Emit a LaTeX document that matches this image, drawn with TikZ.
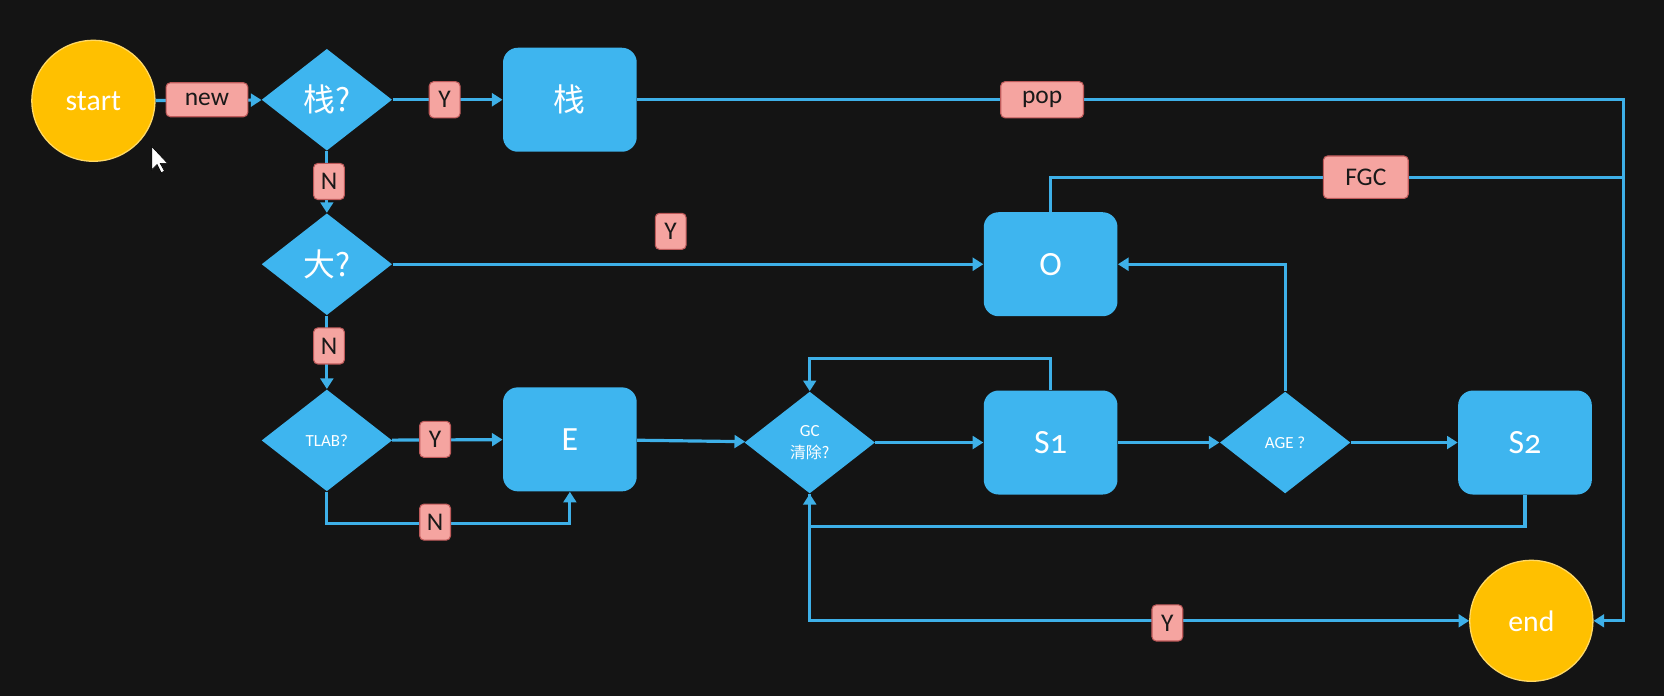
\documentclass[tikz,border=0pt]{standalone}
\usepackage{fontspec}
\setmainfont{Carlito}
\newfontfamily\cjk{Noto Sans CJK SC}
\usetikzlibrary{shapes.geometric,arrows.meta}
\definecolor{bg}{RGB}{20,20,20}
\definecolor{fblue}{RGB}{62,181,239}
\definecolor{lblue}{RGB}{62,176,232}
\definecolor{gold}{RGB}{255,192,0}
\definecolor{pinkf}{RGB}{245,164,160}
\definecolor{pinkd}{RGB}{190,90,90}
\begin{document}
\begin{tikzpicture}[x=0.5pt,y=-0.5pt,
 wire/.style={draw=lblue, line width=1.5pt},
 arr/.style={wire, -{Triangle[length=5pt,width=6pt]}},
 box/.style={rectangle, rounded corners=7pt, fill=fblue, minimum width=63pt, minimum height=49pt, text=white, font=\fontsize{16}{18}\selectfont},
 dia/.style={diamond, fill=fblue, minimum width=61.5pt, minimum height=48pt, inner sep=0pt, text=white, align=center},
 term/.style={ellipse, fill=gold, draw=gold!60!white, line width=0.6pt, minimum width=58pt, minimum height=57pt, text=white, font=\fontsize{14}{16}\selectfont},
 lbl/.style={rectangle, rounded corners=2pt, fill=pinkf, draw=pinkd, line width=0.5pt, text=black!90, inner sep=0pt, minimum height=17pt, minimum width=14.5pt, font=\fontsize{12}{14}\selectfont},
]
\fill[bg] (0,0) rectangle (1568,656);
\useasboundingbox (0,0) rectangle (1568,656);

% nodes
\node[term] (start) at (88,95) {start};
\node[dia, font=\fontsize{15}{17}\selectfont] (q1) at (308,94) {\cjk 栈?};
\node[box, font=\cjk\fontsize{15}{17}\selectfont] (stack) at (537,94) {栈};
\node[dia, font=\fontsize{15}{17}\selectfont] (q2) at (308,249) {\cjk 大?};
\node[box] (O) at (990,249) {O};
\node[dia, font=\fontsize{8}{10}\selectfont] (q3) at (308,415) {TLAB?};
\node[box] (E) at (537,414) {E};
\node[dia, font=\fontsize{8}{10.5}\selectfont] (gc) at (763,417) {GC\\{\cjk\fontsize{7.5}{10.5}\selectfont 清除?}};
\node[box] (S1) at (990,417) {S{\addfontfeature{Numbers=OldStyle}1}};
\node[dia, font=\fontsize{8}{10}\selectfont] (age) at (1211,417) {AGE ?};
\node[box] (S2) at (1437,417) {S{\addfontfeature{Numbers=OldStyle}2}};
\node[term] (end) at (1443,585) {end};

\coordinate (rtop) at (1530,94);
\coordinate (fgcend) at (1530,167);

% connectors
\draw[arr] (start) -- (q1);
\draw[arr] (q1) -- (stack);
\draw[arr] (stack.east) -- (rtop) |- (end.east);
\draw[arr] (q1) -- (q2);
\draw[arr] (q2) -- (O);
\draw[wire] (O.north) |- (fgcend);
\draw[arr] (q2) -- (q3);
\draw[arr] (q3) -- (E);
\draw[arr] (q3.south) -- ++(0,30) -| (E.south);
\draw[arr] (E) -- (gc);
\draw[arr] (gc) -- (S1);
\draw[arr] (S1.north) -- ++(0,-30) -| (gc.north);
\draw[arr] (S1) -- (age);
\draw[arr] (age.north) |- (O.east);
\draw[arr] (age) -- (S2);
\draw[arr] (S2.south) -- ++(0,30) -| (gc.south);
\draw[arr] (gc.south) |- (end.west);

% labels
\node[lbl, minimum width=38.5pt, minimum height=16pt] (lnew) at (195,94) {new};
\node[lbl] (ly1) at (419,94) {Y};
\node[lbl, minimum width=39pt] (lpop) at (982,94) {pop};
\node[lbl] (ln1) at (310,171) {N};
\node[lbl] (ly2) at (632,218) {Y};
\node[lbl, minimum width=40pt, minimum height=20pt] (lfgc) at (1287,167) {FGC};
\node[lbl] (ln2) at (310,326) {N};
\node[lbl] (ly3) at (410,414) {Y};
\node[lbl] (ln3) at (410,492) {N};
\node[lbl] (ly4) at (1100,587) {Y};

% mouse cursor
\fill[white, draw=black, line width=0.3pt] (143,138) -- (143,160) -- (148,155) -- (152,163) -- (155,161) -- (151,154) -- (158,154) -- cycle;
\end{tikzpicture}
\end{document}
